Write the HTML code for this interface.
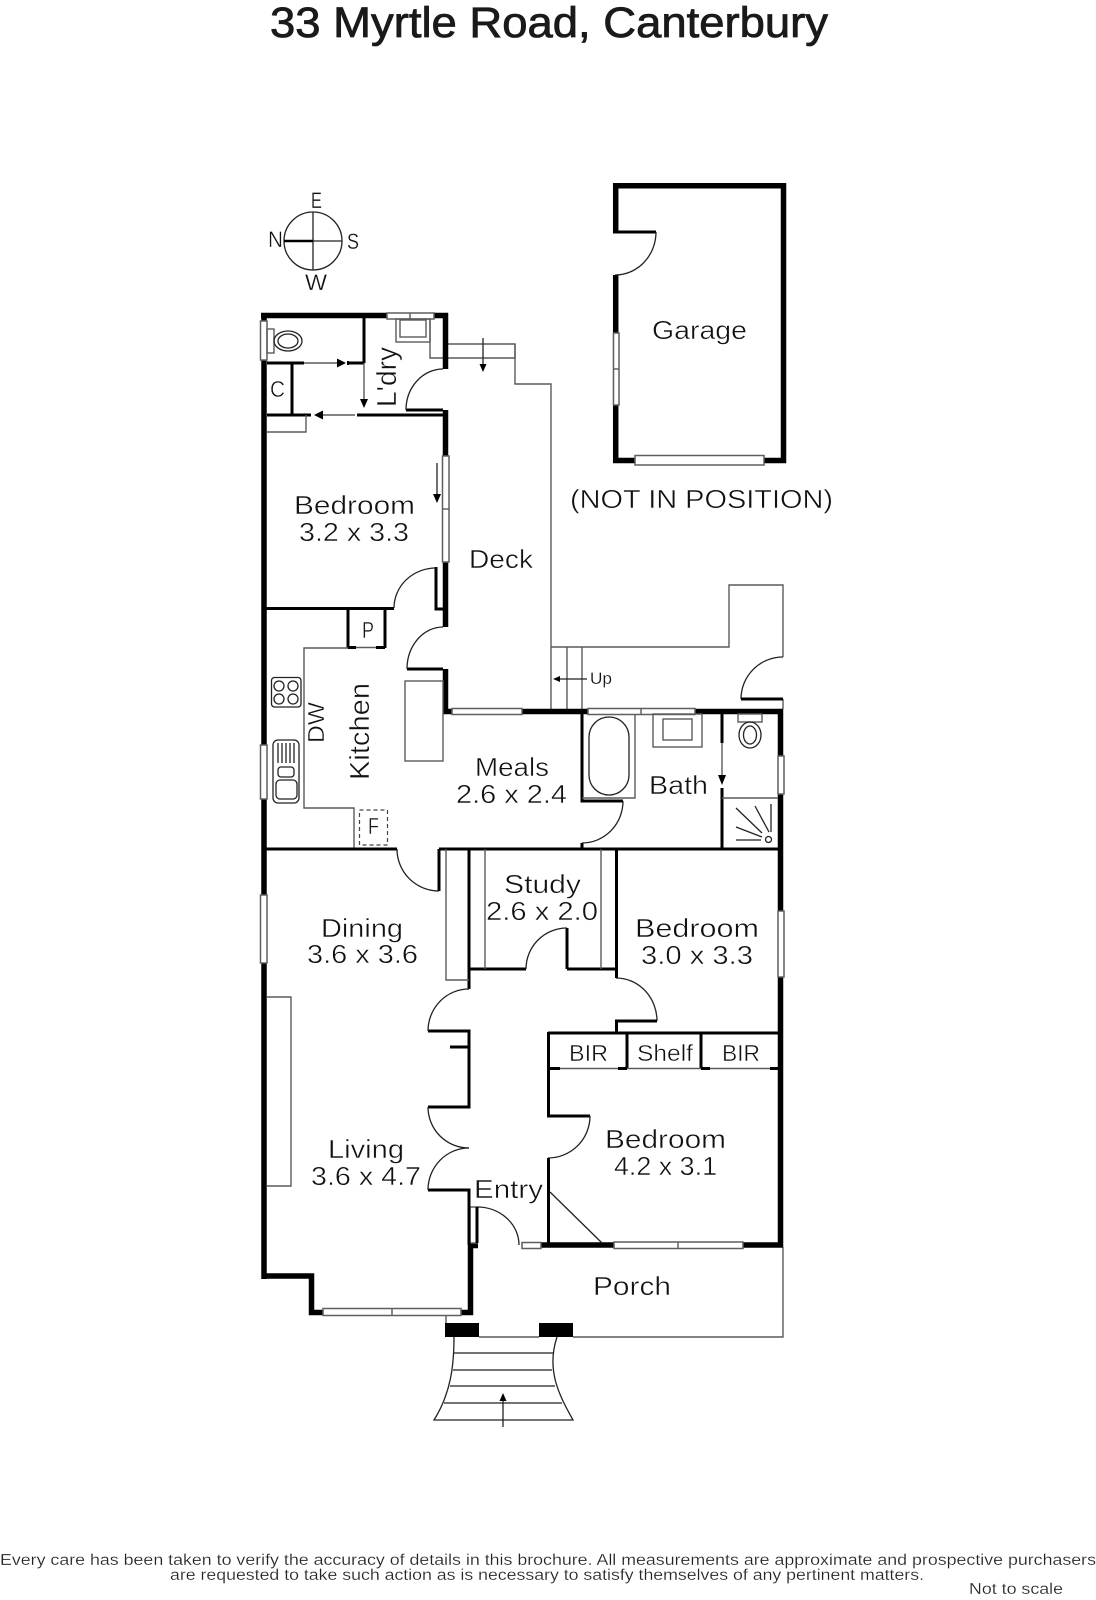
<!DOCTYPE html>
<html><head><meta charset="utf-8"><title>33 Myrtle Road, Canterbury</title>
<style>
html,body{margin:0;padding:0;background:#fff}
svg{display:block}
text{font-family:"Liberation Sans",sans-serif;fill:#111;stroke:#fff;stroke-width:.45px}
.t{font-size:26px}
.s{font-size:23px}
.f{font-size:15.5px;stroke-width:.2px;fill:#222}
.w{fill:none;stroke:#000;stroke-width:5.5;stroke-linecap:butt;stroke-linejoin:miter}
.p{fill:none;stroke:#000;stroke-width:3}
.l{fill:none;stroke:#444;stroke-width:1.3}
.g{fill:none;stroke:#5a5a5a;stroke-width:1.4}
.win{fill:#fff;stroke:#5f5f5f;stroke-width:1.5}
.a{fill:none;stroke:#222;stroke-width:1.3}
.ah{fill:#000;stroke:none}
</style></head>
<body>
<svg width="1096" height="1600" viewBox="0 0 1096 1600" xmlns="http://www.w3.org/2000/svg">
<rect width="1096" height="1600" fill="#fff"/>

<text x="270" y="37" textLength="558" lengthAdjust="spacingAndGlyphs" style="stroke:#1a1a1a;stroke-width:.8px;font-size:43px;fill:#1a1a1a">33 Myrtle Road, Canterbury</text>

<!-- compass -->
<circle cx="313" cy="241" r="29" class="l" style="stroke:#222"/>
<path d="M313,212V270M313,241H342" class="l" style="stroke:#222"/>
<path d="M284,241H313" stroke="#000" stroke-width="2.5"/>
<text x="311" y="208" textLength="11" lengthAdjust="spacingAndGlyphs" style="font-size:22px;stroke-width:.3px">E</text>
<text x="268" y="247" textLength="15" lengthAdjust="spacingAndGlyphs" style="font-size:22px;stroke-width:.3px">N</text>
<text x="347" y="249" textLength="12" lengthAdjust="spacingAndGlyphs" style="font-size:22px;stroke-width:.3px">S</text>
<text x="305" y="290" textLength="22" lengthAdjust="spacingAndGlyphs" style="font-size:22px;stroke-width:.3px">W</text>

<!-- garage -->
<path class="w" d="M615.7,233V185.7H783.5V460.5H615.7V275"/>
<path class="p" stroke-width="2.5" d="M613,232H656"/>
<path class="a" d="M656,232A41,43 0 0 1 615,275"/>
<rect class="win" x="613.5" y="333" width="5.5" height="72"/><path class="g" d="M613,369H619"/>
<rect class="win" x="635" y="455.5" width="129" height="9.5"/>

<!-- thin outlines: deck, porch, etc -->
<path class="g" d="M448,344H515V384H551V709"/>
<path class="g" d="M430,319V358H515V344"/>
<path class="g" d="M551,647H729V585H783V657M783,699V709M567,647V709M582,647V709"/>
<path class="g" d="M783,1247V1337H573M539,1337H479M446,1316V1323"/>
<path class="a" d="M783,657A42,42 0 0 0 741,699"/><path class="p" stroke-width="2" d="M741,699H783"/>
<path class="a" d="M587,679H558"/><path class="ah" d="M553,679l7,-3v6z"/>
<text x="590" y="684" textLength="22" lengthAdjust="spacingAndGlyphs" style="font-size:17px;stroke-width:.2px">Up</text>
<path class="a" d="M483,338V365"/><path class="ah" d="M483,372l-3.500,-8h7z"/>

<!-- main exterior walls -->
<path class="w" d="M264,313V1279"/>
<path class="w" d="M261,315.500H448"/>
<path class="w" d="M445.500,313V369M445.500,410V456M445.500,562V627M445.500,669V714"/>
<path class="w" d="M443,711.500H452M522,711.500H588M695,711.500H783"/>
<path class="w" d="M780.500,709V756M780.500,794V911M780.500,977V1247"/>
<path class="w" d="M541,1245H783"/>
<path class="w" d="M261.500,1276H314.200M311.500,1273.500V1315.200M309,1312.500H323M461,1312.500H473.200M470.500,1245V1315.200M468,1245.500H478"/>

<!-- windows -->
<rect class="win" x="387" y="313" width="47" height="6"/><path class="g" d="M410,313V319"/>
<rect class="win" x="260.500" y="321" width="6.500" height="39"/>
<rect class="win" x="442.500" y="456" width="6.500" height="106"/><path class="g" d="M442,509H449"/>
<rect class="win" x="452" y="708.500" width="70" height="6"/>
<rect class="win" x="588" y="708.500" width="107" height="6"/><path class="g" d="M641,708V715"/>
<rect class="win" x="260.500" y="745" width="6.500" height="54"/>
<rect class="win" x="778" y="756" width="6" height="38"/>
<rect class="win" x="778" y="911" width="6" height="66"/>
<rect class="win" x="260.500" y="895" width="6.500" height="68"/>
<rect class="win" x="323" y="1308.500" width="138" height="7"/><path class="g" d="M392,1308V1316"/>
<rect class="win" x="522" y="1242.500" width="19" height="6"/>
<rect class="win" x="614" y="1242" width="129" height="6.500"/><path class="g" d="M678,1242V1248"/>
<rect class="win" x="470" y="1207" width="7" height="36"/>

<!-- laundry / wc / closet -->
<path class="p" d="M364,318V363M267,363H304M349,363H364M267,415H311M357,415H443"/>
<path class="p" stroke-width="1.8" d="M292,363V415"/>
<path class="p" d="M406,410H443" stroke-width="2.500"/>
<path class="a" d="M406,410A37,41 0 0 1 443,369"/>
<path class="g" d="M304,363H337M364,363V400M323,415H355"/>
<path class="ah" d="M337,358.500l9,4.500l-9,4.500zM364,408l-4,-9h8zM314,415l9,-4.500v9z"/>
<path class="ah" d="M347,361h2v4h-2zM292,363h0"/>
<path class="g" d="M267,432H306V415"/>
<rect class="g" x="396" y="319" width="34" height="23"/>
<rect class="g" x="400" y="320" width="26" height="17"/>
<rect class="g" x="267" y="329" width="7" height="24"/>
<ellipse class="a" cx="288" cy="341" rx="14" ry="10"/><ellipse class="a" cx="288" cy="341" rx="10" ry="7"/>
<text x="396" y="407" transform="rotate(-90 396 407)" textLength="60" lengthAdjust="spacingAndGlyphs" style="font-size:28px">L'dry</text>
<text x="270" y="397" class="s" textLength="15" lengthAdjust="spacingAndGlyphs">C</text>

<!-- bedroom top -->
<path class="a" d="M437,463V496"/><path class="ah" d="M437,503l-4,-9h8z"/>
<path class="p" d="M266,608.500H394M436,567V609H443"/>
<path class="a" d="M394,608A42,40 0 0 1 436,568"/>
<text x="294" y="514" class="t" textLength="121" lengthAdjust="spacingAndGlyphs">Bedroom</text>
<text x="299" y="541" class="t" textLength="110" lengthAdjust="spacingAndGlyphs">3.2 x 3.3</text>
<text x="469" y="568" class="t" textLength="64" lengthAdjust="spacingAndGlyphs">Deck</text>

<!-- kitchen -->
<path class="p" d="M348,608V648M385,608V648"/>
<path class="g" d="M348,647.500H385"/>
<path class="p" d="M348,647.500H356M376,647.500H385"/>
<path class="g" d="M348,648H304V808H354V849"/>
<text x="362" y="638" class="s" textLength="12" lengthAdjust="spacingAndGlyphs">P</text>
<path class="p" stroke-width="2.500" d="M407,669H443"/>
<path class="a" d="M407,669A36,42 0 0 1 443,627"/>
<rect class="g" x="405" y="681" width="38" height="80"/>
<rect class="a" x="271.500" y="677.500" width="29.500" height="29.500" rx="3"/>
<circle class="a" cx="279" cy="686" r="5"/><circle class="a" cx="293" cy="686" r="5"/>
<circle class="a" cx="279" cy="699" r="5"/><circle class="a" cx="293" cy="699" r="5"/>
<rect class="a" x="273" y="740" width="26" height="63" rx="5"/>
<path class="a" d="M278,743V763M282,743V763M286,743V763M290,743V763M294,743V763"/>
<rect class="a" x="278" y="767" width="16" height="10" rx="3"/>
<rect class="a" x="276" y="780" width="21" height="19" rx="4"/>
<rect x="359.500" y="810" width="28" height="35" fill="none" stroke="#444" stroke-width="1.200" stroke-dasharray="4 3"/>
<text x="368" y="834" class="s" textLength="11" lengthAdjust="spacingAndGlyphs">F</text>
<text x="324" y="743" class="s" transform="rotate(-90 324 743)" textLength="41" lengthAdjust="spacingAndGlyphs">DW</text>
<text x="369" y="780" transform="rotate(-90 369 780)" textLength="97" lengthAdjust="spacingAndGlyphs" style="font-size:28px">Kitchen</text>
<text x="475" y="776" class="t" textLength="74" lengthAdjust="spacingAndGlyphs">Meals</text>
<text x="456" y="803" class="t" textLength="111" lengthAdjust="spacingAndGlyphs">2.6 x 2.4</text>

<!-- horizontal mid wall -->
<path class="p" d="M266,849H397M439,849H778"/>
<path class="p" d="M439,849V891"/>
<path class="a" d="M397,849A42,42 0 0 0 439,891"/>

<!-- bath -->
<path class="p" d="M582,714V801H623M582,843V849"/>
<path class="a" d="M623,801A41,42 0 0 1 582,843"/>
<path class="g" d="M582,798H635V714"/>
<rect class="a" x="589" y="717" width="40" height="78" rx="20"/>
<rect class="g" x="653" y="714" width="49" height="33"/>
<rect class="g" x="663" y="719" width="29" height="21"/>
<path class="p" d="M722,714V743M722,788V849"/>
<path class="g" d="M722,743V776M722,798H778"/>
<path class="ah" d="M722,785l-4,-10h8z"/>
<rect class="g" x="738" y="714" width="24" height="8"/>
<ellipse class="a" cx="750" cy="735" rx="11" ry="13"/><ellipse class="a" cx="750" cy="735" rx="6.500" ry="9"/>
<path class="a" d="M736,808L762,833M755,806L769,832M771,804V832M736,827L762,837M736,840H761"/>
<circle class="a" cx="768.500" cy="839.500" r="3"/>
<text x="649" y="794" class="t" textLength="59" lengthAdjust="spacingAndGlyphs">Bath</text>

<!-- study, linen -->
<path class="p" d="M469,849V989M469,969H526M567,969H617M616.500,849V978"/>
<path class="p" stroke-width="2.500" d="M567,928V969"/>
<path class="a" d="M526,969A41,41 0 0 1 567,928"/>
<path class="g" d="M446,849V980H469M485,849V969M601,849V969"/>
<text x="504" y="893" class="t" textLength="77" lengthAdjust="spacingAndGlyphs">Study</text>
<text x="486" y="920" class="t" textLength="112" lengthAdjust="spacingAndGlyphs">2.6 x 2.0</text>

<!-- dining/living -->
<path class="g" d="M267,997H291V1186H267"/>
<text x="321" y="937" class="t" textLength="82" lengthAdjust="spacingAndGlyphs">Dining</text>
<text x="307" y="963" class="t" textLength="111" lengthAdjust="spacingAndGlyphs">3.6 x 3.6</text>
<text x="328" y="1158" class="t" textLength="76" lengthAdjust="spacingAndGlyphs">Living</text>
<text x="311" y="1185" class="t" textLength="110" lengthAdjust="spacingAndGlyphs">3.6 x 4.7</text>

<!-- hall walls -->
<path class="p" d="M428,1031H469V1107H428M450,1047H469M428,1190H469V1245"/>
<path class="a" d="M469,989A41,42 0 0 0 428,1031"/>
<path class="a" d="M428,1107A41,41 0 0 0 469,1148"/>
<path class="a" d="M469,1148A41,42 0 0 0 428,1190"/>
<path class="a" d="M477,1207A42,38 0 0 1 519,1245"/>
<path class="p" stroke-width="2.500" d="M477,1207V1243"/>
<text x="474" y="1198" class="t" textLength="69" lengthAdjust="spacingAndGlyphs">Entry</text>

<!-- bedroom 3.0, BIR -->
<path class="a" d="M616,978A41,43 0 0 1 657,1021"/>
<path class="p" d="M657,1021H616.500V1033M548,1033H778M548.500,1032V1116H590M548.500,1158V1245M627,1033V1069M701,1033V1069"/>
<path class="g" d="M548,1068.500H778"/>
<path class="p" d="M548,1068.500H560M618,1068.500H627M701,1068.500H710M770,1068.500H778"/>
<path class="a" d="M590,1116A42,42 0 0 1 548,1158"/>
<path class="a" d="M550,1192L602,1243"/>
<text x="635" y="937" class="t" textLength="124" lengthAdjust="spacingAndGlyphs">Bedroom</text>
<text x="641" y="964" class="t" textLength="112" lengthAdjust="spacingAndGlyphs">3.0 x 3.3</text>
<text x="569" y="1061" class="s" textLength="39" lengthAdjust="spacingAndGlyphs">BIR</text>
<text x="637" y="1061" class="s" textLength="56" lengthAdjust="spacingAndGlyphs">Shelf</text>
<text x="722" y="1061" class="s" textLength="38" lengthAdjust="spacingAndGlyphs">BIR</text>
<text x="605" y="1148" class="t" textLength="121" lengthAdjust="spacingAndGlyphs">Bedroom</text>
<text x="614" y="1175" class="t" textLength="103" lengthAdjust="spacingAndGlyphs">4.2 x 3.1</text>

<!-- porch & steps -->
<rect x="445" y="1323" width="34" height="14" fill="#000"/>
<rect x="539" y="1323" width="34" height="14" fill="#000"/>
<path class="a" d="M454,1337C454,1365 451,1393 434,1420H573C559,1395 546,1370 557,1337"/>
<path class="a" d="M454,1353H553M453,1370H552M450,1386H555M444,1403H562"/>
<path class="a" d="M503,1427V1400"/><path class="ah" d="M503,1393l-3.500,8h7z"/>
<text x="593" y="1295" class="t" textLength="78" lengthAdjust="spacingAndGlyphs">Porch</text>

<text x="652" y="339" class="t" textLength="95" lengthAdjust="spacingAndGlyphs">Garage</text>
<text x="570" y="508" class="t" textLength="263" lengthAdjust="spacingAndGlyphs">(NOT IN POSITION)</text>

<!-- footer -->
<text x="0" y="1565" class="f" textLength="1096" lengthAdjust="spacingAndGlyphs">Every care has been taken to verify the accuracy of details in this brochure.  All measurements are approximate and prospective purchasers</text>
<text x="170" y="1580" class="f" textLength="754" lengthAdjust="spacingAndGlyphs">are requested to take such action as is necessary to satisfy themselves of any pertinent matters.</text>
<text x="969" y="1594" class="f" textLength="94" lengthAdjust="spacingAndGlyphs">Not to scale</text>
</svg>
</body></html>
